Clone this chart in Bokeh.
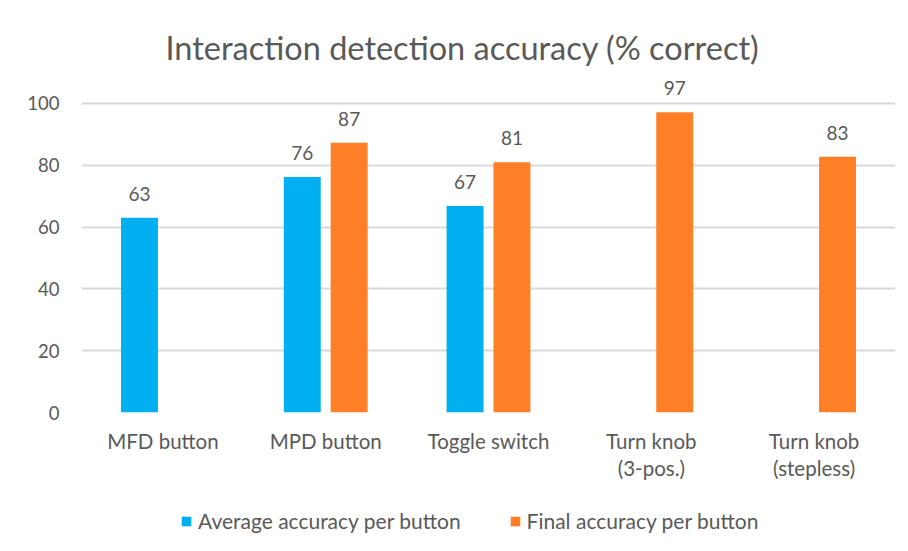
from bokeh.plotting import figure
from bokeh.layouts import column
from bokeh.models import ColumnDataSource, FactorRange, Range1d, FixedTicker, Legend, LegendItem
from bokeh.transform import dodge
from bokeh.core.properties import value
from bokeh.embed import file_html
from bokeh.resources import INLINE

categories = ["MFD button", "MPD button", "Toggle switch", "Turn knob\n(3-pos.)", "Turn knob\n(stepless)"]
average_acc = [63.0, 76.2, 66.8, None, None]
final_acc = [None, 87.3, 81.0, 97.2, 82.8]
y_ticks = [0, 20, 40, 60, 80, 100]
series_names = ["Average accuracy per button", "Final accuracy per button"]

TEXT = "#595959"
GRID = "#d9d9d9"
FONT = "Lato"
BLUE = "#00B0F0"
ORANGE = "#FF7F27"

def make_source(vals):
    xs, ys, labels = [], [], []
    for c, v in zip(categories, vals):
        if v is not None:
            xs.append(c)
            ys.append(v)
            labels.append(str(int(round(v))))
    return ColumnDataSource(dict(cat=xs, val=ys, label=labels))

src_avg = make_source(average_acc)
src_fin = make_source(final_acc)

p = figure(
    width=900, height=487,
    x_range=FactorRange(*categories, range_padding=0),
    y_range=Range1d(0, 109.06),
    output_backend="svg", toolbar_location=None,
    min_border_left=81, min_border_right=5, min_border_top=75, min_border_bottom=75,
    title="Interaction detection accuracy (% correct)",
)

p.title.text_font = FONT
p.title.text_font_size = "32.5px"
p.title.text_font_style = "normal"
p.title.text_color = TEXT
p.title.align = "left"
p.title.offset = 84
p.title.standoff = 17

p.outline_line_color = None
p.xgrid.grid_line_color = None
p.ygrid.grid_line_color = GRID
p.ygrid.grid_line_width = 2
p.ygrid.ticker = FixedTicker(ticks=y_ticks)

p.yaxis.ticker = FixedTicker(ticks=y_ticks)
p.yaxis.axis_line_color = None
p.yaxis.major_tick_line_color = None
p.yaxis.minor_tick_line_color = None
p.yaxis.major_label_text_font = FONT
p.yaxis.major_label_text_font_size = "18.5px"
p.yaxis.major_label_text_color = TEXT
p.yaxis.major_label_standoff = 16

p.xaxis.axis_line_color = None
p.xaxis.major_tick_line_color = None
p.xaxis.minor_tick_line_color = None
p.xaxis.major_label_text_font = FONT
p.xaxis.major_label_text_font_size = "20.5px"
p.xaxis.major_label_text_color = TEXT
p.xaxis.major_label_standoff = 10
p.xaxis.major_label_text_line_height = 1.15

BW = 0.227
OFF = 0.144
p.vbar(x=dodge("cat", -OFF, range=p.x_range), top="val", bottom=0, width=BW,
       source=src_avg, fill_color=BLUE, line_color=None)
p.vbar(x=dodge("cat", OFF, range=p.x_range), top="val", bottom=0, width=BW,
       source=src_fin, fill_color=ORANGE, line_color=None)

for src, off in ((src_avg, -OFF), (src_fin, OFF)):
    p.text(x=dodge("cat", off, range=p.x_range), y="val", text="label", source=src,
           text_align="center", text_baseline="alphabetic", y_offset=-24,
           text_font=value(FONT), text_font_size="19px", text_color=TEXT)

# legend strip below the chart (shares the category axis; its value window
# lies above all data, so its bars stay out of view and only the legend shows)
lf = figure(width=900, height=56, x_range=p.x_range, y_range=Range1d(200, 201),
            x_axis_type=None, y_axis_type=None, output_backend="svg",
            toolbar_location=None, min_border=0)
lf.outline_line_color = None
lf.xgrid.grid_line_color = None
lf.ygrid.grid_line_color = None
lr_avg = lf.vbar(x=dodge("cat", -OFF, range=p.x_range), top="val", bottom=0, width=BW,
                 source=src_avg, fill_color=BLUE, line_color=None)
lr_fin = lf.vbar(x=dodge("cat", OFF, range=p.x_range), top="val", bottom=0, width=BW,
                 source=src_fin, fill_color=ORANGE, line_color=None)

legend = Legend(items=[
    LegendItem(label=series_names[0], renderers=[lr_avg]),
    LegendItem(label=series_names[1], renderers=[lr_fin]),
], orientation="horizontal", location=(99, 10))
legend.label_text_font = FONT
legend.label_text_font_size = "21px"
legend.label_text_color = TEXT
legend.glyph_width = 12
legend.glyph_height = 12
legend.label_standoff = 6
legend.spacing = 48
legend.padding = 0
legend.margin = 0
legend.border_line_color = None
legend.background_fill_alpha = 0
lf.add_layout(legend, "center")

layout = column(p, lf, spacing=0)
open("out.html", "w").write(file_html(layout, INLINE))
